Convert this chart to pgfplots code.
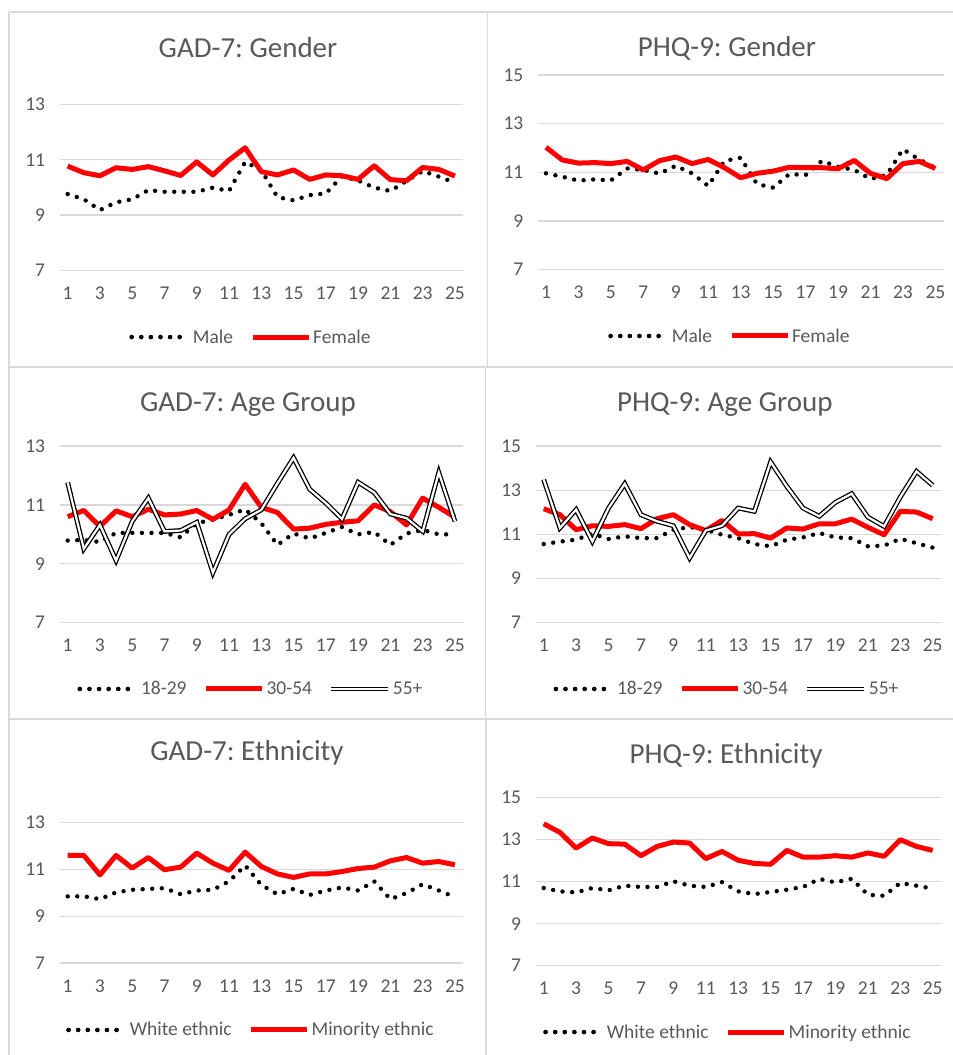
\documentclass[border=0pt]{standalone}
\usepackage{pgfplots}
\pgfplotsset{compat=1.18}
\usepackage{pgfplotstable}
\usepackage{fontspec}
\setmainfont{Carlito}
\definecolor{textgray}{HTML}{595959}
\definecolor{gridgray}{HTML}{D9D9D9}
\definecolor{bordergray}{HTML}{D9D9D9}
\definecolor{xred}{HTML}{FF0000}

\pgfplotstableread{
x a b
1 9.76 10.77
2 9.57 10.53
3 9.18 10.42
4 9.46 10.71
5 9.57 10.65
6 9.90 10.75
7 9.84 10.60
8 9.84 10.43
9 9.84 10.92
10 9.99 10.45
11 9.87 10.99
12 10.92 11.43
13 10.62 10.57
14 9.65 10.45
15 9.53 10.63
16 9.72 10.29
17 9.78 10.45
18 10.40 10.42
19 10.25 10.29
20 9.99 10.78
21 9.87 10.28
22 10.23 10.24
23 10.59 10.72
24 10.39 10.65
25 10.17 10.41
}\gadgender

\pgfplotstableread{
x a b
1 10.96 12.03
2 10.82 11.51
3 10.66 11.38
4 10.71 11.40
5 10.67 11.36
6 11.16 11.45
7 11.10 11.10
8 10.95 11.48
9 11.27 11.63
10 10.96 11.36
11 10.44 11.53
12 11.47 11.19
13 11.60 10.78
14 10.52 10.96
15 10.37 11.05
16 10.93 11.21
17 10.89 11.19
18 11.47 11.19
19 11.23 11.15
20 11.10 11.49
21 10.73 10.96
22 10.89 10.74
23 11.95 11.36
24 11.53 11.45
25 11.19 11.16
}\phqgender

\pgfplotstableread{
x a b c
1 9.79 10.60 11.76
2 9.81 10.81 9.51
3 9.74 10.27 10.32
4 10.05 10.80 9.11
5 10.05 10.60 10.44
6 10.05 10.85 11.23
7 10.05 10.66 10.10
8 9.90 10.69 10.13
9 10.38 10.81 10.41
10 10.50 10.51 8.70
11 10.66 10.83 10.00
12 10.85 11.70 10.53
13 10.38 10.92 10.83
14 9.64 10.74 11.73
15 10.03 10.18 12.60
16 9.86 10.21 11.53
17 10.05 10.34 11.06
18 10.25 10.41 10.52
19 10.00 10.46 11.77
20 10.08 11.00 11.42
21 9.64 10.77 10.69
22 10.03 10.32 10.55
23 10.15 11.23 10.10
24 10.00 10.92 12.10
25 10.00 10.58 10.44
}\gadage

\pgfplotstableread{
x a b c
1 10.56 12.16 13.48
2 10.67 11.89 11.29
3 10.76 11.21 12.12
4 11.03 11.39 10.68
5 10.79 11.36 12.19
6 10.91 11.44 13.29
7 10.83 11.26 11.89
8 10.83 11.71 11.59
9 11.21 11.89 11.39
10 11.33 11.44 9.93
11 11.21 11.17 11.17
12 10.98 11.63 11.39
13 10.83 11.02 12.19
14 10.56 11.03 12.04
15 10.46 10.83 14.28
16 10.76 11.29 13.17
17 10.86 11.24 12.19
18 11.06 11.48 11.82
19 10.86 11.48 12.45
20 10.83 11.69 12.84
21 10.46 11.32 11.78
22 10.49 10.98 11.36
23 10.80 12.04 12.69
24 10.60 12.01 13.85
25 10.40 11.71 13.22
}\phqage

\pgfplotstableread{
x a b
1 9.85 11.60
2 9.85 11.60
3 9.73 10.77
4 10.02 11.60
5 10.13 11.06
6 10.17 11.51
7 10.20 10.99
8 9.94 11.10
9 10.10 11.70
10 10.13 11.27
11 10.49 10.96
12 11.17 11.74
13 10.34 11.13
14 9.94 10.81
15 10.17 10.66
16 9.91 10.81
17 10.10 10.81
18 10.23 10.91
19 10.10 11.04
20 10.49 11.10
21 9.73 11.37
22 9.99 11.51
23 10.37 11.27
24 10.10 11.34
25 9.82 11.20
}\gadeth

\pgfplotstableread{
x a b
1 10.70 13.76
2 10.54 13.35
3 10.49 12.60
4 10.70 13.08
5 10.59 12.81
6 10.81 12.79
7 10.75 12.24
8 10.75 12.68
9 11.02 12.89
10 10.81 12.84
11 10.75 12.10
12 10.98 12.44
13 10.54 12.02
14 10.41 11.87
15 10.51 11.83
16 10.62 12.49
17 10.75 12.17
18 11.13 12.17
19 10.97 12.24
20 11.14 12.17
21 10.38 12.37
22 10.33 12.21
23 10.94 13.00
24 10.81 12.68
25 10.67 12.49
}\phqeth

\pgfplotsset{
  panel/.style={
    scale only axis,
    xmin=0.5, xmax=25.5,
    xtick={1,3,...,25},
    axis line style={draw=none},
    major tick length=0pt,
    ymajorgrids,
    grid style={color=gridgray, line width=1.2pt},
    tick label style={font=\fontsize{19.5}{22}\selectfont, text=textgray},
    xticklabel style={yshift=-13pt},
    yticklabel style={xshift=-11pt},
    /pgf/number format/assume math mode=true,
    title style={font=\fontsize{29}{34}\selectfont, text=textgray, anchor=center, yshift=-7pt},
    legend style={draw=none, fill=none, legend columns=-1, anchor=center,
      font=\fontsize{19.5}{22}\selectfont, text=textgray,
      /tikz/every even column/.append style={column sep=15pt}},
    legend image code/.code={\path (0pt,0pt) -- (57pt,0pt);\draw[##1] (0pt,0pt) -- (50pt,0pt);},
  },
  dotline/.style={black, line width=4.4pt, line cap=round, dash pattern=on 0pt off 9.6pt},
  redline/.style={xred, line width=5pt, line join=round,
    legend image code/.code={\path (0pt,0pt) -- (56pt,0pt);\draw[##1] (0pt,0pt) -- (54pt,0pt);}},
  dblline/.style={black, line width=1.3pt, double=white, double distance=2.2pt, line join=miter},
}

\begin{document}
\frenchspacing
\begin{tikzpicture}
\useasboundingbox (0pt,0pt) rectangle (953pt,-1055pt);
% panel borders
\draw[bordergray, line width=1.3pt] (9pt,-12pt) -- (953pt,-12pt);
\draw[bordergray, line width=1.3pt] (9pt,-367pt) -- (953pt,-367pt);
\draw[bordergray, line width=1.3pt] (9pt,-719pt) -- (953pt,-719pt);
\draw[bordergray, line width=1.3pt] (9pt,-12pt) -- (9pt,-1055pt);
\draw[bordergray, line width=1.3pt] (487.5pt,-12pt) -- (487.5pt,-367pt);
\draw[bordergray, line width=1.3pt] (485.5pt,-367pt) -- (485.5pt,-719pt);
\draw[bordergray, line width=1.3pt] (486pt,-719pt) -- (486pt,-1055pt);

% Panel 1
\begin{axis}[panel, at={(59.6pt,-76.8pt)}, anchor=north west,
  width=403.4pt, height=193.5pt, ymin=7, ymax=14, ytick={7,9,11,13},
  title={GAD-7: Gender}, title style={at={(0.467,1.154)}},
  legend style={at={(0.4745,-0.345)}}]
\addplot[dotline] table[x=x,y=a] {\gadgender};
\addlegendentry{Male}
\addplot[redline] table[x=x,y=b] {\gadgender};
\addlegendentry{Female}
\end{axis}

% Panel 2
\begin{axis}[panel, at={(537.9pt,-75pt)}, anchor=north west,
  width=405.6pt, height=194.7pt, ymin=7, ymax=15, ytick={7,9,11,13,15},
  title={PHQ-9: Gender}, title style={at={(0.466,1.144)}},
  legend style={at={(0.4736,-0.3405)}}]
\addplot[dotline] table[x=x,y=a] {\phqgender};
\addlegendentry{Male}
\addplot[redline] table[x=x,y=b] {\phqgender};
\addlegendentry{Female}
\end{axis}

% Panel 3
\begin{axis}[panel, at={(59.6pt,-446pt)}, anchor=north west,
  width=403.4pt, height=176.7pt, ymin=7, ymax=13, ytick={7,9,11,13},
  title={GAD-7: Age Group}, title style={at={(0.467,1.238)}},
  legend style={at={(0.4745,-0.375)}}]
\addplot[dotline] table[x=x,y=a] {\gadage};
\addlegendentry{18-29}
\addplot[redline] table[x=x,y=b] {\gadage};
\addlegendentry{30-54}
\addplot[dblline] table[x=x,y=c] {\gadage};
\addlegendentry{55+}
\end{axis}

% Panel 4
\begin{axis}[panel, at={(535.6pt,-446pt)}, anchor=north west,
  width=405.2pt, height=176.7pt, ymin=7, ymax=15, ytick={7,9,11,13,15},
  title={PHQ-9: Age Group}, title style={at={(0.467,1.238)}},
  legend style={at={(0.4724,-0.375)}}]
\addplot[dotline] table[x=x,y=a] {\phqage};
\addlegendentry{18-29}
\addplot[redline] table[x=x,y=b] {\phqage};
\addlegendentry{30-54}
\addplot[dblline] table[x=x,y=c] {\phqage};
\addlegendentry{55+}
\end{axis}

% Panel 5
\begin{axis}[panel, at={(59.6pt,-799.3pt)}, anchor=north west,
  width=403.4pt, height=163.7pt, ymin=7, ymax=14, ytick={7,9,11,13},
  title={GAD-7: Ethnicity}, title style={at={(0.4645,1.289)}},
  legend style={at={(0.4745,-0.409)}}]
\addplot[dotline] table[x=x,y=a] {\gadeth};
\addlegendentry{White ethnic}
\addplot[redline] table[x=x,y=b] {\gadeth};
\addlegendentry{Minority ethnic}
\end{axis}

% Panel 6
\begin{axis}[panel, at={(535.6pt,-797.7pt)}, anchor=north west,
  width=405.2pt, height=168pt, ymin=7, ymax=15, ytick={7,9,11,13,15},
  title={PHQ-9: Ethnicity}, title style={at={(0.470,1.254)}},
  legend style={at={(0.4749,-0.395)}}]
\addplot[dotline] table[x=x,y=a] {\phqeth};
\addlegendentry{White ethnic}
\addplot[redline] table[x=x,y=b] {\phqeth};
\addlegendentry{Minority ethnic}
\end{axis}
\end{tikzpicture}
\end{document}
